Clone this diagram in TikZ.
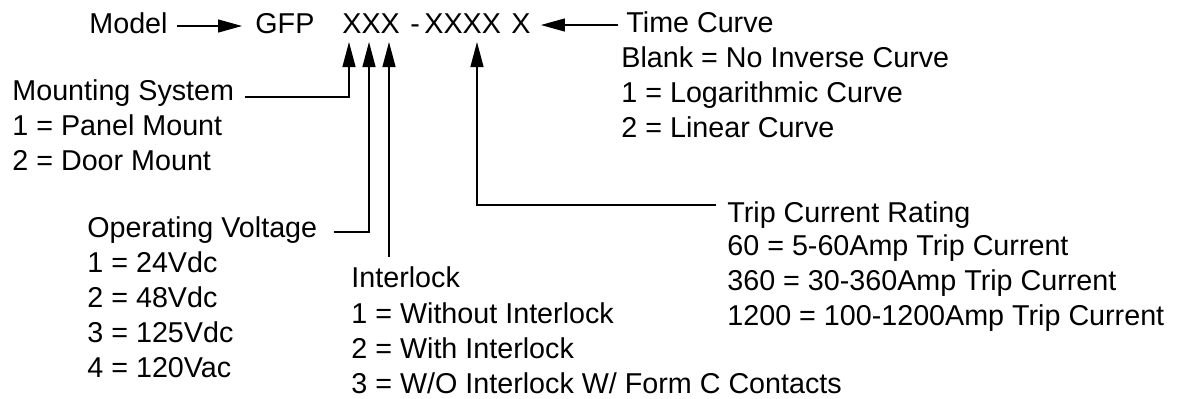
\documentclass[tikz,border=0pt]{standalone}
\usepackage{fontspec}
\setmainfont{Liberation Sans}
\usetikzlibrary{arrows.meta,positioning,calc}

\begin{document}
\begin{tikzpicture}[x=0.5pt,y=-0.5pt,node distance=17.5pt,
    t/.style={inner sep=0pt,anchor=base west,font=\fontsize{14.35pt}{17.5pt}\selectfont},
    l/.style={t,align=left},
    a/.style={-{Triangle[length=12pt,width=6.5pt]},line width=0.65pt},
    c/.style={line width=0.65pt}]
  \useasboundingbox (0,0) rectangle (1177,398);
  % model code
  \node[t] (model) at (89,33) {Model};
  \node[t] (gfp) at (255,33) {GFP};
  \node[t] (xxx) at (342,33) {XXX};
  \node[t] (dash) at (410,33) {-};
  \node[t] (xxxx) at (424,33) {XXXX};
  \node[t] (xlast) at (511,33) {X};
  \coordinate (tip1) at (349,42);
  \coordinate (tip2) at (369,42);
  \coordinate (tip3) at (389,42);
  \coordinate (tip4) at (477,42);
  % option groups (base = last line)
  \node[t] (mount) at (12,100) {Mounting System};
  \node[below=35pt of mount.base west,l] (mountopt) {1 = Panel Mount\\2 = Door Mount};
  \node[t] (volt) at (87,237) {Operating Voltage};
  \node[below=70pt of volt.base west,l] (voltopt) {1 = 24Vdc\\2 = 48Vdc\\3 = 125Vdc\\4 = 120Vac};
  \node[t] (inter) at (351,287) {Interlock};
  \node[below=53pt of inter.base west,l] (interopt) {1 = Without Interlock\\2 = With Interlock\\3 = W/O Interlock W/ Form C Contacts};
  \node[t] (trip) at (727,222) {Trip Current Rating};
  \node[below=51.5pt of trip.base west,l] (tripopt) {60 = 5-60Amp Trip Current\\360 = 30-360Amp Trip Current\\1200 = 100-1200Amp Trip Current};
  \node[t] (time) at (626,32) {Time Curve};
  \node[below=52.5pt of time.base west,xshift=-2.5pt,l] (timeopt) {Blank = No Inverse Curve\\1 = Logarithmic Curve\\2 = Linear Curve};
  % connectors
  \draw[a] ([xshift=4.5pt,yshift=3.5pt]model.base east) -- ([xshift=-6.5pt,yshift=3.5pt]gfp.base west);
  \coordinate (tcs) at ([xshift=-4pt,yshift=3.5pt]time.base west);
  \coordinate (tce) at ([xshift=5pt]xlast.east);
  \draw[a] (tcs) -- (tcs -| tce);
  \draw[c,-{Triangle[length=12.5pt,width=6.5pt]}] ([xshift=5pt,yshift=1.5pt]mount.base east) -| (tip1);
  \draw[c,-{Triangle[length=12.5pt,width=6.5pt]}] ([xshift=8pt,yshift=2.5pt]volt.base east) -| (tip2);
  \draw[c,-{Triangle[length=12.5pt,width=6.5pt]}] ([yshift=4.5pt]inter.north -| tip3) -- (tip3);
  \draw[c,-{Triangle[length=12.5pt,width=6.5pt]}] ([xshift=-5.5pt,yshift=8.5pt]trip.base west) -| (tip4);
\end{tikzpicture}
\end{document}
